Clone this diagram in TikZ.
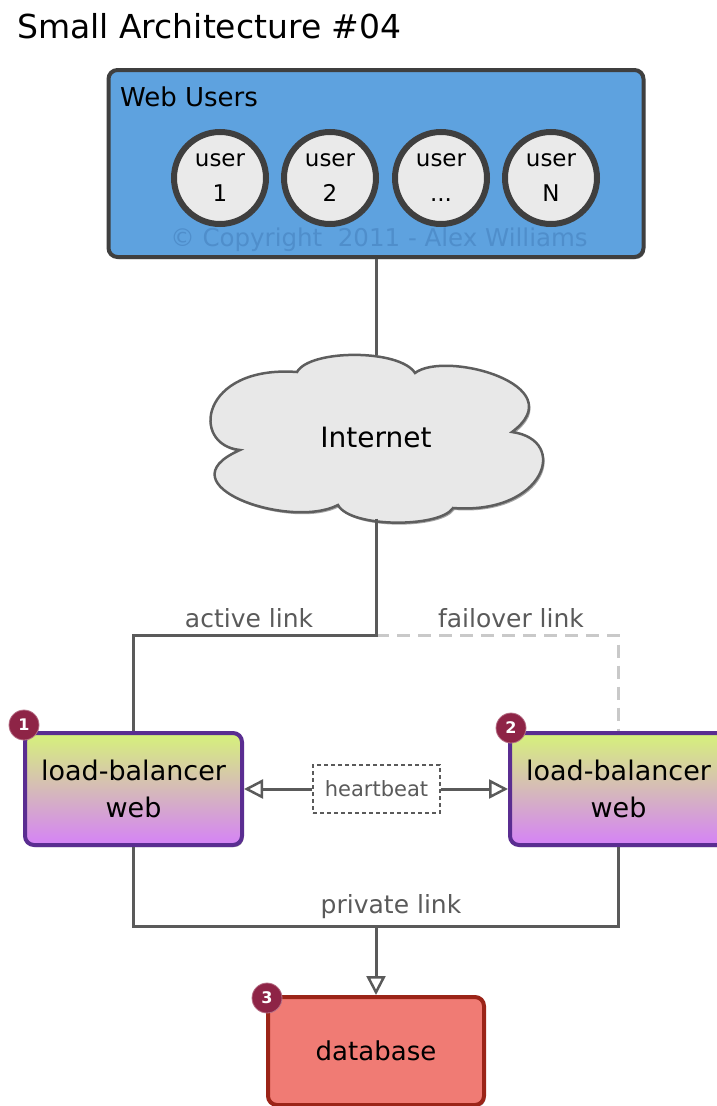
\documentclass[tikz,border=0pt]{standalone}
\usepackage{fontspec}
\setmainfont{DejaVu Sans}
\usetikzlibrary{shadows,arrows.meta}

\definecolor{panelblue}{HTML}{5EA2DF}
\definecolor{paneledge}{HTML}{3F3F3F}
\definecolor{copyblue}{HTML}{4F8ECB}
\definecolor{userfill}{HTML}{EAEAEA}
\definecolor{cloudfill}{HTML}{E8E8E8}
\definecolor{cloudedge}{HTML}{5E5E5E}
\definecolor{linkgray}{HTML}{5A5A5A}
\definecolor{failgray}{HTML}{C9C9C9}
\definecolor{lbtop}{HTML}{D6F27A}
\definecolor{lbbottom}{HTML}{D582F7}
\definecolor{lbedge}{HTML}{5A2D91}
\definecolor{dbfill}{HTML}{F07B74}
\definecolor{dbedge}{HTML}{9B2418}
\definecolor{badgefill}{HTML}{8E2446}

\tikzset{
  softshadow/.style={drop shadow={shadow xshift=1.5pt, shadow yshift=-2pt, opacity=0.35, fill=black}},
  panel/.style={draw=paneledge, fill=panelblue, line width=4pt, rounded corners=9pt, softshadow},
  userdisc/.style={circle, draw=paneledge, fill=userfill, line width=6pt, minimum size=92pt,
    inner sep=0pt, align=center, font=\fontsize{23}{35}\selectfont},
  cloudshape/.style={fill=cloudfill, draw=cloudedge, line width=2.5pt, softshadow},
  lbbox/.style={draw=lbedge, line width=4pt, rounded corners=9pt, top color=lbtop, bottom color=lbbottom,
    minimum width=217pt, minimum height=112pt, align=center, font=\fontsize{27}{37}\selectfont, softshadow},
  dbbox/.style={draw=dbedge, fill=dbfill, line width=4pt, rounded corners=9pt,
    minimum width=216pt, minimum height=108pt, font=\fontsize{26}{30}\selectfont, softshadow},
  badge/.style={circle, fill=badgefill, draw=badgefill!65!white, line width=0.8pt, minimum size=30pt,
    inner sep=0pt, text=white, font=\bfseries\fontsize{16}{18}\selectfont},
  link/.style={draw=linkgray, line width=3pt},
  failover/.style={draw=failgray, line width=3pt, dash pattern=on 13pt off 8pt},
  openhead/.style={-{Triangle[open, length=19pt, width=19pt, line width=2.5pt]}},
  linklabel/.style={text=linkgray, font=\fontsize{25}{30}\selectfont, inner sep=0pt},
  hbbox/.style={draw=linkgray, line width=1.2pt, dash pattern=on 4pt off 3pt, fill=white,
    minimum width=127pt, minimum height=48pt, text=linkgray, font=\fontsize{21}{24}\selectfont}
}

\begin{document}
\begin{tikzpicture}[x=1pt, y=-1pt]
\useasboundingbox (0,0) rectangle (717,1106);
\clip (0,0) rectangle (717,1106);

% heading
\node[anchor=base west, inner sep=0pt, font=\fontsize{33}{38}\selectfont] (title) at (17,38) {Small Architecture \#04};

% user panel
\node[panel, minimum width=535pt, minimum height=187pt] (users) at (376,163.5) {};
\node[anchor=north west, inner sep=0pt, font=\fontsize{26}{30}\selectfont] (userscap) at (120,87) {Web Users};
\node[text=copyblue, inner sep=0pt, font=\fontsize{24.5}{28}\selectfont] (copy) at (379,240) {© Copyright\ \ 2011 - Alex Williams};
\node[userdisc] (u1) at (220,178) {user\\1};
\node[userdisc] (u2) at (330,178) {user\\2};
\node[userdisc] (u3) at (441,178) {user\\...};
\node[userdisc] (u4) at (551,178) {user\\N};

% internet cloud: six puffs, drawn clockwise from the left notch
\path[cloudshape] (240,450)
  .. controls (190,445) and (200,365) .. (297,372)
  .. controls (310,349) and (400,349) .. (415,373)
  .. controls (445,350) and (575,385) .. (512,432)
  .. controls (570,440) and (545,515) .. (453,508)
  .. controls (440,528) and (350,528) .. (338,505)
  .. controls (290,530) and (160,485) .. cycle;
\node[minimum width=340pt, minimum height=163pt, inner sep=0pt,
  font=\fontsize{28}{32}\selectfont] (net) at (376,437) {Internet};

% load balancers, heartbeat and database
\node[lbbox] (lb1) at (133.5,789) {load-balancer\\web};
\node[lbbox] (lb2) at (618.5,789) {load-balancer\\web};
\node[hbbox] (hb) at (376.5,789) {heartbeat};
\node[dbbox] (db) at (376,1051) {database};

% junction points
\coordinate (split) at (376,635);
\coordinate (bus) at (376,926);

% connectors
\draw[link] (users.south) -- (net.north);
\draw[failover] (split) -| (lb2.north);
\draw[link] (net.south) -- (split) -| (lb1.north);
\draw[link] (lb1.south) |- (bus) -| (lb2.south);
\draw[link, openhead] (bus) -- (db.north);
\draw[link, openhead] (hb.west) -- (lb1.east);
\draw[link, openhead] (hb.east) -- (lb2.west);

% connector labels
\node[linklabel, anchor=base] (activelbl) at (249,627) {active link};
\node[linklabel, anchor=base] (faillbl) at (511,627) {failover link};
\node[linklabel, anchor=base] (privlbl) at (391,913) {private link};

% numbered badges
\node[badge] (b1) at (24,725) {1};
\node[badge] (b2) at (511,728) {2};
\node[badge] (b3) at (267,998) {3};
\end{tikzpicture}
\end{document}
